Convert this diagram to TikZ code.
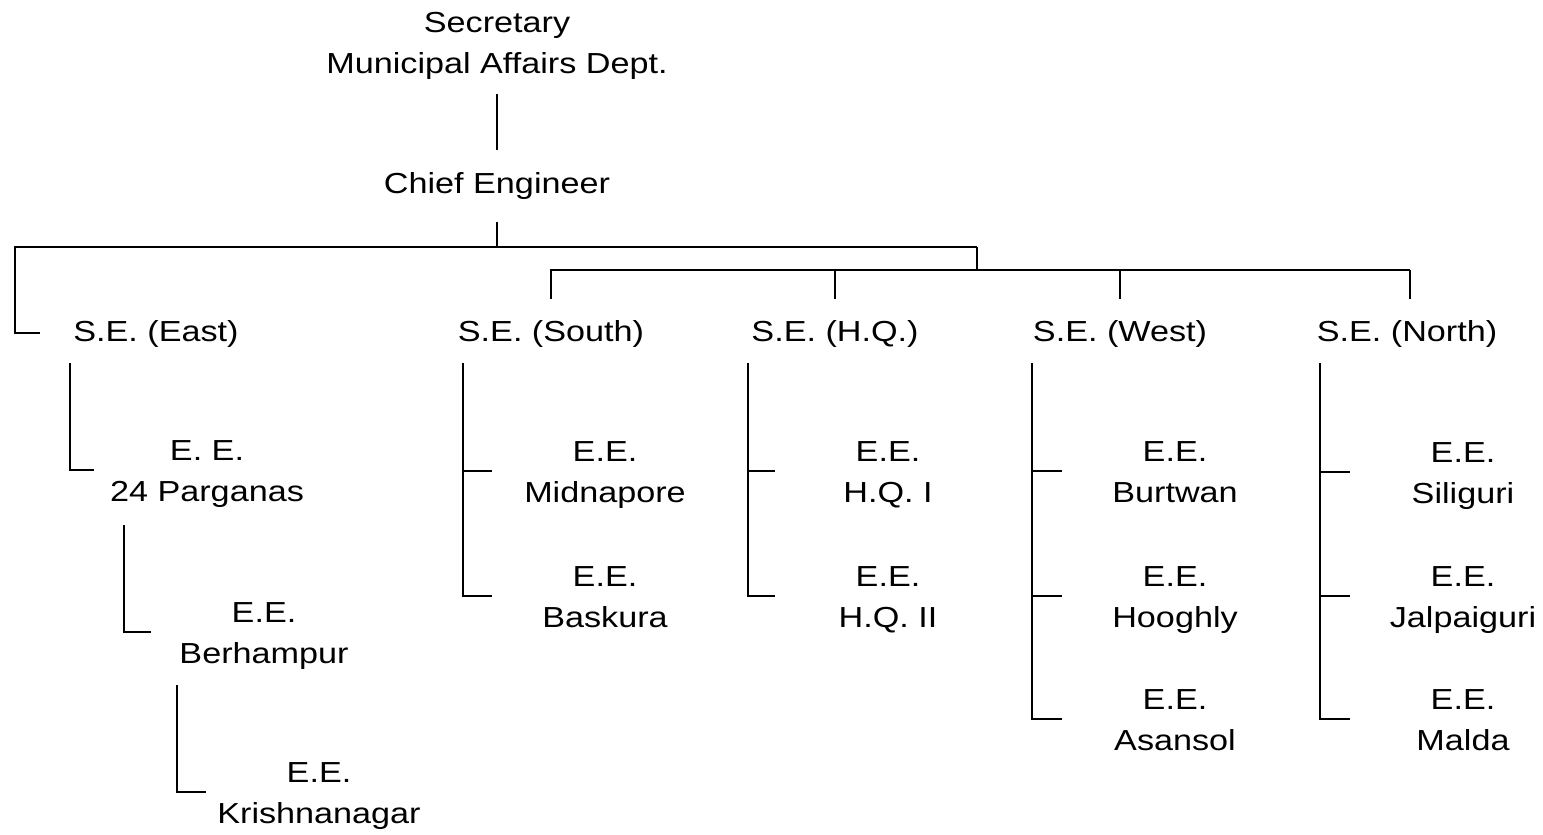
\documentclass[tikz,border=0pt]{standalone}
\usepackage{fontspec}
\setmainfont{Liberation Sans}[FakeStretch=1.18]
\usepackage{tikz}
\tikzstyle{post} = [inner sep=0pt, align=center, execute at begin node=\strut, execute at end node=\strut]
\tikzstyle{office} = [post]
\tikzstyle{ee} = [post, minimum width=5.65cm, text height=54pt]
\tikzstyle{link} = [draw, line width=1.6pt]

\begin{document}
\begin{tikzpicture}[x=0.025cm, y=-0.025cm, font=\fontsize{20.6}{29.2}\selectfont]
    \useasboundingbox (0,0) rectangle (1543,834);
    % Top of the chart
    \node [post] (sec) at (497,49) {Secretary \\ Municipal Affairs Dept.};
    \node [post] (chief) at (497,185) {Chief Engineer};

    % Superintending engineers
    \node [office] (seEast) at (156,333) {S.E. (East)};
    \node [office] (seSouth) at (551,333) {S.E. (South)};
    \node [office] (seHQ) at (835,333) {S.E. (H.Q.)};
    \node [office] (seWest) at (1120,333) {S.E. (West)};
    \node [office] (seNorth) at (1407,333) {S.E. (North)};

    % Executive engineers
    \node [ee] (eeParganas) at (207,470) {E. E. \\ 24 Parganas};
    \node [ee] (eeBerhampur) at (264,632) {E.E. \\ Berhampur};
    \node [ee] (eeKrishna) at (319,792) {E.E. \\ Krishnanagar};
    \node [ee] (eeMidnapore) at (605,471) {E.E. \\ Midnapore};
    \node [ee] (eeBaskura) at (605,596) {E.E. \\ Baskura};
    \node [ee] (eeHQone) at (888,471) {E.E. \\ H.Q. I};
    \node [ee] (eeHQtwo) at (888,596) {E.E. \\ H.Q. II};
    \node [ee] (eeBurtwan) at (1175,471) {E.E. \\ Burtwan};
    \node [ee] (eeHooghly) at (1175,596) {E.E. \\ Hooghly};
    \node [ee] (eeAsansol) at (1175,719) {E.E. \\ Asansol};
    \node [ee] (eeSiliguri) at (1463,472) {E.E. \\ Siliguri};
    \node [ee] (eeJalpaiguri) at (1463,596) {E.E. \\ Jalpaiguri};
    \node [ee] (eeMalda) at (1463,719) {E.E. \\ Malda};

    % Bars and line heads
    \coordinate (barL) at (15,247);
    \coordinate (barR) at (977,247);
    \coordinate (barTwoL) at (550,270);
    \coordinate (barTwoR) at (1410,270);
    \coordinate (eastTop) at (70,363);
    \coordinate (parTop) at (124,525);
    \coordinate (berTop) at (177,685);
    \coordinate (southTop) at (463,363);
    \coordinate (hqTop) at (748,363);
    \coordinate (westTop) at (1032,363);
    \coordinate (northTop) at (1320,363);

    % Links
    \draw [link, shorten <=0.2cm, shorten >=0.36cm] (sec) -- (chief);
    \draw [link, shorten <=0.4cm] (chief.south) -- (chief.south |- barR);
    \draw [link, shorten >=0.82cm] (barR) -- (barL) |- (seEast.west);
    \draw [link] (barR) -- (barR |- barTwoR);
    \draw [link] (barTwoL) -- (barTwoR);
    \draw [link, shorten >=0.34cm] (seSouth.north |- barTwoL) -- (seSouth.north);
    \draw [link, shorten >=0.34cm] (seHQ.north |- barTwoL) -- (seHQ.north);
    \draw [link, shorten >=0.34cm] (seWest.north |- barTwoL) -- (seWest.north);
    \draw [link, shorten >=0.34cm] (barTwoR) -- (barTwoR |- seNorth.north);

    \draw [link] (eastTop) |- (eeParganas.west);
    \draw [link] (parTop) |- (eeBerhampur.west);
    \draw [link] (berTop) |- (eeKrishna.west);

    \draw [link] (southTop) |- (eeBaskura.west);
    \draw [link] (eeMidnapore.west) -- (eeMidnapore.west -| southTop);
    \draw [link] (hqTop) |- (eeHQtwo.west);
    \draw [link] (eeHQone.west) -- (eeHQone.west -| hqTop);
    \draw [link] (westTop) |- (eeAsansol.west);
    \draw [link] (eeBurtwan.west) -- (eeBurtwan.west -| westTop);
    \draw [link] (eeHooghly.west) -- (eeHooghly.west -| westTop);
    \draw [link] (northTop) |- (eeMalda.west);
    \draw [link] (eeSiliguri.west) -- (eeSiliguri.west -| northTop);
    \draw [link] (eeJalpaiguri.west) -- (eeJalpaiguri.west -| northTop);
\end{tikzpicture}
\end{document}
